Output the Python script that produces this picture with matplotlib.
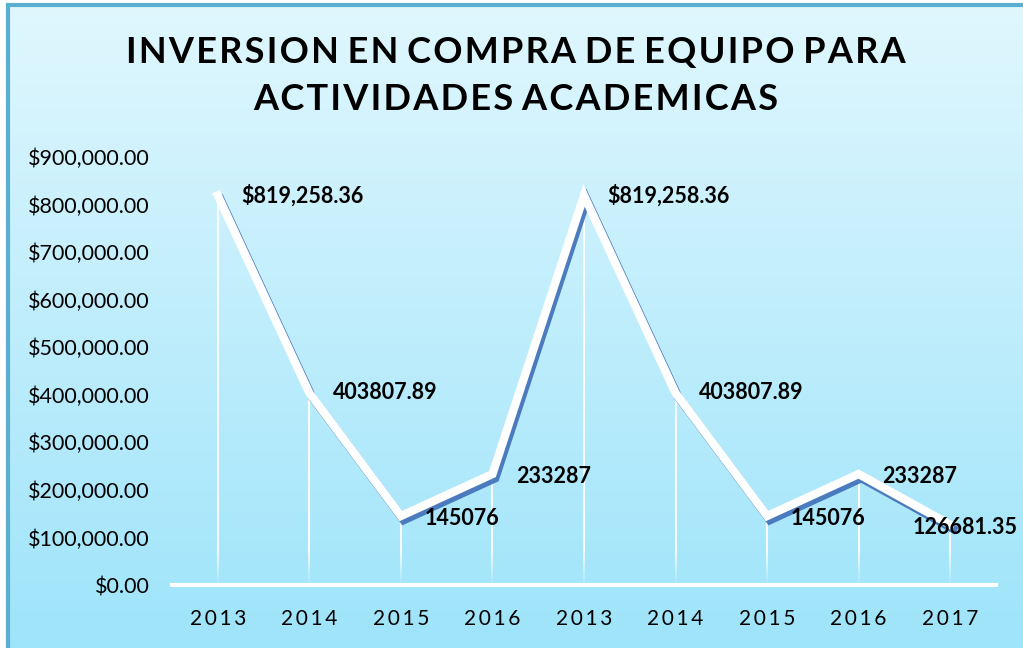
import numpy as np
import matplotlib.pyplot as plt
import matplotlib.patheffects as pe
from matplotlib.patches import Rectangle

years = ['2013', '2014', '2015', '2016', '2013', '2014', '2015', '2016', '2017']
values = [819258.36, 403807.89, 145076, 233287, 819258.36, 403807.89, 145076, 233287, 126681.35]
labels = ['$819,258.36', '403807.89', '145076', '233287', '$819,258.36',
          '403807.89', '145076', '233287', '126681.35']
yticks = np.arange(0, 900001, 100000)
title_lines = ['INVERSION EN COMPRA DE EQUIPO PARA', 'ACTIVIDADES ACADEMICAS']

plt.rcParams['font.family'] = ['Lato', 'DejaVu Sans']


def spaced(s, sep='\u200a'):
    return ' '.join(sep.join(w) for w in s.split(' '))


fig = plt.figure(figsize=(10.23, 6.48), dpi=100)
fig.patch.set_facecolor('white')

# background gradient panel with border
bg = fig.add_axes([8/1023, 0, 1 - 8/1023, 1 - 5/648])
grad = np.linspace(0, 1, 256).reshape(-1, 1)
top = np.array([224, 247, 254]) / 255
bot = np.array([158, 228, 250]) / 255
img = top + (bot - top) * grad[:, :, None]
bg.imshow(img, aspect='auto', extent=[0, 1, 0, 1])
bg.set_xlim(0, 1)
bg.set_ylim(0, 1)
bg.axis('off')
bg.add_patch(Rectangle((0, -0.5), 1.5, 1.5, fill=False, edgecolor='#5aaed0', lw=3,
                       transform=bg.transAxes, clip_on=False))

ax = fig.add_axes([172/1023, 63/648, 824/1023, 428/648])
ax.patch.set_alpha(0)
x = np.arange(len(values))
ax.set_xlim(-0.5, len(values) - 0.5)
ax.set_ylim(0, 900000)

# drop lines, fading out towards the axis
fade = np.linspace(0, 70000, 15)
for xi, v in zip(x, values):
    ax.vlines(xi, fade[-1], v, color='white', lw=1.5, alpha=0.9, zorder=2)
    for k in range(len(fade) - 1):
        ax.vlines(xi, fade[k], fade[k + 1], color='white', lw=1.5,
                  alpha=0.9 * (k + 1) / len(fade), zorder=2)

ax.plot(x, values, color='white', lw=6, solid_joinstyle='miter', zorder=3,
        path_effects=[pe.SimpleLineShadow(offset=(2, -3), shadow_color='#3f6fb8', alpha=0.9),
                      pe.Normal()])

for i, (v, lab) in enumerate(zip(values, labels)):
    if i == len(values) - 1:
        ax.annotate(lab, (i, v), xytext=(11, -2), textcoords='offset points',
                    ha='center', va='center', fontsize=15.5, fontweight='bold', zorder=4)
    else:
        dy = 0 if v > 300000 else -2
        ax.annotate(lab, (i, v), xytext=(17, dy), textcoords='offset points',
                    ha='left', va='center', fontsize=15.5, fontweight='bold', zorder=4)

ax.set_yticks(yticks)
ax.set_yticklabels(['${:,.2f}'.format(t) for t in yticks], fontsize=15.5)
ax.set_xticks(x)
ax.set_xticklabels([spaced(y, '\u2009') for y in years], fontsize=15)
ax.tick_params(length=0)
ax.tick_params(axis='y', pad=16)
ax.tick_params(axis='x', pad=17)
for s in ['top', 'right', 'left']:
    ax.spines[s].set_visible(False)
ax.spines['bottom'].set_color('white')
ax.spines['bottom'].set_linewidth(3)

for k, line in enumerate(title_lines):
    fig.text(516/1023, 1 - (52 + 48 * k)/648, spaced(line), ha='center', va='center',
             fontsize=26, fontweight='bold')

fig.savefig('out.png', dpi=100)
